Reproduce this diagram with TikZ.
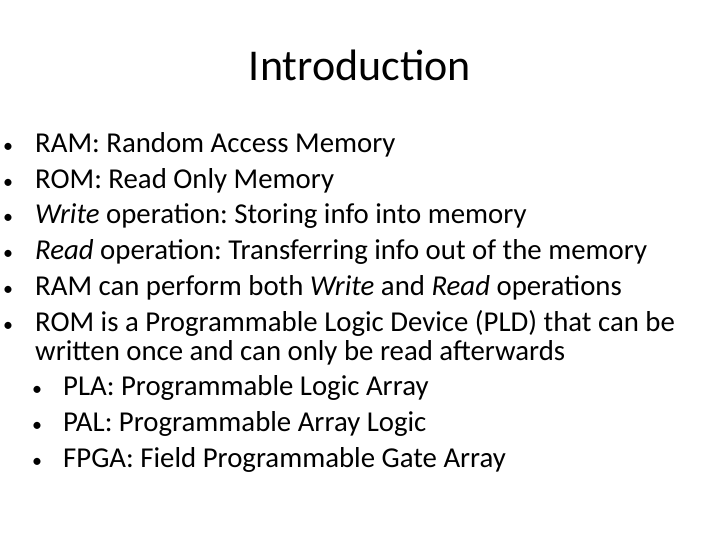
\documentclass[tikz,border=0pt]{standalone}
\usepackage{fontspec}
\setmainfont{Carlito}
\frenchspacing
\begin{document}
\begin{tikzpicture}[x=1pt,y=1pt,
  txt/.style={anchor=base west,inner sep=0pt,font=\fontsize{28.8}{34}\selectfont},
  bul/.style={anchor=base west,inner sep=0pt,font=\fontsize{20}{24}\selectfont}]
\useasboundingbox (0,0) rectangle (720,-540);
\node[anchor=base,inner sep=0pt,font=\fontsize{44}{52}\selectfont] (title) at (360,-81) {Introduction};
\foreach \y/\b/\t [count=\i] in {
 153/0/{RAM: Random Access Memory},
 189/0/{ROM: Read Only Memory},
 224/0/{\textit{Write} operation: Storing info into memory},
 259/0/{\textit{Read} operation: Transferring info out of the memory},
 295/0/{RAM can perform both \textit{Write} and \textit{Read} operations},
 331/0/{ROM is a Programmable Logic Device (PLD) that can be},
 395/1/{PLA: Programmable Logic Array},
 431/1/{PAL: Programmable Array Logic},
 467/1/{FPGA: Field Programmable Gate Array}}{
 \ifnum\b=0
   \node[bul] (b\i) at (3,-\y) {•};
   \node[txt] (t\i) at (35,-\y) {\t};
 \else
   \node[bul] (b\i) at (32,-\y) {•};
   \node[txt] (t\i) at (63,-\y) {\t};
 \fi
}
\node[txt] (w) at (35,-360) {written once and can only be read afterwards};
\end{tikzpicture}
\end{document}
